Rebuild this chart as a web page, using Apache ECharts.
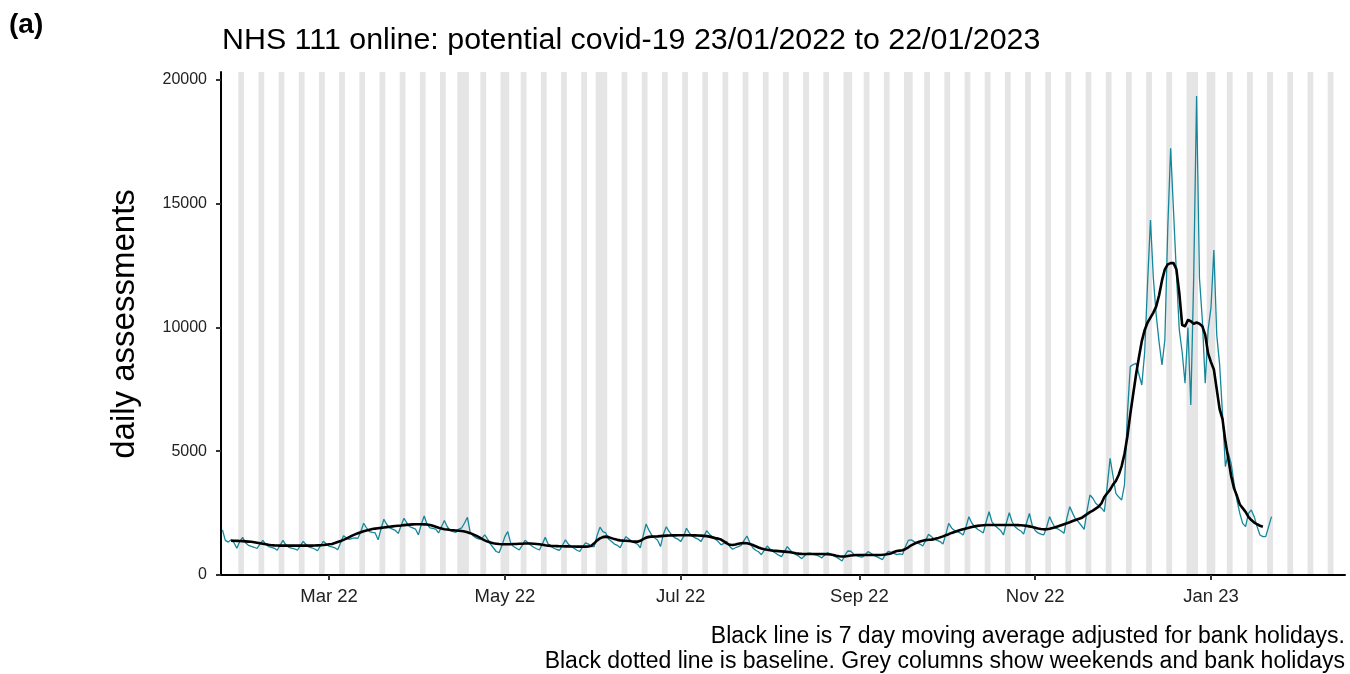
<!DOCTYPE html>
<html><head><meta charset="utf-8">
<script src="https://cdn.jsdelivr.net/npm/echarts@6/dist/echarts.min.js"></script>
<style>html,body{margin:0;padding:0;background:#fff}#c{width:1350px;height:674px}</style>
</head><body><div id="c"></div>
<script>
// ---------- data ----------
const dailyStart = [2022, 0, 23]; // Sun 23 Jan 2022
// daily assessments (23/01/2022 .. 22/01/2023), rows Mon..Sun after the first Sunday
const dailyAssessments = [
  1820,
  1400,1330,1420,1300,1080,1350,1520,
  1300,1200,1160,1120,1070,1250,1400,
  1250,1150,1120,1080,1000,1200,1400,
  1220,1120,1090,1060,1000,1180,1360,
  1230,1130,1100,1050,980,1180,1360,
  1260,1160,1140,1100,1020,1300,1590,
  1500,1440,1480,1500,1480,1750,2090,
  1900,1750,1720,1700,1420,1850,2250,
  2050,1900,1850,1800,1680,2000,2290,
  2100,1950,1900,1850,1620,2050,2380,
  2050,1900,1880,1850,1700,1950,2200,
  1950,1800,1750,1720,1850,1900,2100,
  2330,1700,1580,1500,1450,1480,1620,
  1450,1250,1100,950,900,1200,1550,
  1750,1300,1150,1080,1010,1200,1400,
  1300,1200,1120,1060,1010,1250,1520,
  1250,1150,1080,1030,1000,1200,1420,
  1250,1150,1080,1000,950,1150,1300,
  1250,1150,1150,1600,1930,1750,1700,
  1450,1350,1250,1200,1100,1350,1550,
  1450,1350,1300,1250,1100,1600,2060,
  1800,1600,1500,1400,1150,1650,1950,
  1750,1600,1500,1450,1350,1550,1890,
  1700,1580,1500,1450,1350,1550,1790,
  1650,1550,1450,1350,1220,1280,1350,
  1150,1040,1100,1150,1200,1400,1576,
  1300,1100,1000,940,820,1000,1170,
  1050,950,880,800,741,950,1145,
  1000,900,820,760,660,780,880,
  880,830,800,760,690,820,910,
  850,780,720,650,566,800,970,
  960,850,780,741,720,820,943,
  880,800,740,680,620,820,950,
  920,870,820,850,830,1150,1400,
  1420,1350,1300,1250,1171,1400,1643,
  1550,1450,1400,1350,1250,1650,2087,
  1900,1800,1750,1700,1616,1950,2357,
  2100,1950,1850,1780,1700,2150,2557,
  2150,2000,1900,1800,1616,2100,2514,
  2150,1950,1850,1780,1650,2100,2485,
  2000,1800,1700,1650,1620,1950,2357,
  2100,1900,1850,1780,1684,2300,2761,
  2500,2250,2150,2000,1845,2600,3232,
  3100,2900,2800,2700,2559,3600,4714,
  4000,3300,3150,3030,3650,6500,8418,
  8500,8553,8100,7677,9000,11800,14343,
  12000,10500,9400,8485,9500,14000,17239,
  14700,12200,9900,9000,7744,10000,6869,
  12000,19354,12000,10300,7744,9900,10800,
  13131,9700,8500,6500,4377,4929,4500,
  3700,3030,2490,2087,1953,2490,2626,
  2357,1953,1616,1549,1549,1953,2357
];
const avgStart = [2022, 0, 26]; // Wed 26 Jan 2022
// 7 day moving average adjusted for bank holidays (26/01/2022 .. 19/01/2023)
const movingAverage = [
  1390,1385,1380,1375,1370,
  1360,1350,1340,1320,1300,1280,1260,
  1240,1220,1205,1195,1190,1185,1185,
  1185,1185,1185,1185,1185,1185,1185,
  1185,1185,1185,1190,1195,1200,1210,
  1225,1240,1255,1290,1330,1370,1420,
  1470,1530,1590,1640,1685,1730,1770,
  1800,1830,1855,1875,1890,1905,1920,
  1935,1950,1965,1980,1990,2000,2015,
  2025,2035,2045,2050,2050,2050,2045,
  2040,2020,1990,1950,1910,1875,1850,
  1835,1820,1810,1800,1790,1780,1760,
  1730,1690,1640,1590,1530,1460,1400,
  1350,1310,1280,1265,1250,1245,1240,
  1240,1245,1250,1255,1260,1265,1270,
  1270,1270,1265,1255,1240,1220,1200,
  1185,1175,1170,1165,1160,1160,1155,
  1155,1150,1150,1145,1145,1145,1145,
  1150,1180,1280,1400,1480,1530,1550,
  1530,1490,1450,1420,1400,1390,1385,
  1375,1360,1350,1347,1380,1450,1510,
  1540,1550,1555,1560,1570,1580,1590,
  1595,1600,1600,1605,1605,1605,1605,
  1605,1600,1600,1595,1590,1580,1570,
  1550,1520,1490,1470,1430,1360,1280,
  1220,1210,1230,1260,1285,1290,1280,
  1250,1210,1160,1110,1070,1040,1020,
  1000,985,975,965,955,945,935,
  920,900,880,865,855,850,848,
  848,848,848,848,848,845,840,
  830,810,780,755,745,750,770,
  790,800,805,808,808,808,808,
  808,805,805,808,815,830,850,
  870,930,970,985,1000,1050,1120,
  1200,1260,1310,1350,1385,1410,1425,
  1430,1450,1480,1520,1560,1610,1650,
  1700,1740,1780,1820,1850,1880,1910,
  1940,1965,1985,2000,2010,2020,2020,
  2020,2020,2020,2020,2020,2020,2020,
  2020,2020,2015,2010,2000,1985,1965,
  1940,1910,1880,1860,1845,1850,1870,
  1900,1930,1970,2010,2050,2090,2130,
  2180,2220,2260,2300,2380,2460,2540,
  2600,2680,2760,2900,3150,3300,3450,
  3650,3800,4050,4400,4900,5600,6500,
  7300,8100,8800,9450,9900,10200,10400,
  10600,10850,11300,11900,12350,12550,12600,
  12600,12350,11400,10100,10050,10300,10250,
  10150,10200,10150,10050,9700,8950,8600,
  8300,7500,6700,6300,5400,4700,4000,
  3500,3200,2850,2700,2550,2350,2220,
  2120,2050,1990,1950
];
const bankHolidays = ['2022-04-15','2022-04-18','2022-05-02','2022-06-02','2022-06-03',
  '2022-08-29','2022-09-19','2022-12-26','2022-12-27','2023-01-02'];
const shadeFrom = [2022, 0, 29];   // first shaded weekend shown
const axisFrom = [2022, 0, 22.5];
const axisTo = [2023, 1, 16.5];
const xTickDates = [[2022,2,1],[2022,4,1],[2022,6,1],[2022,8,1],[2022,10,1],[2023,0,1]];
const yTickValues = [0, 5000, 10000, 15000, 20000];
const monthNames = ['Jan','Feb','Mar','Apr','May','Jun','Jul','Aug','Sep','Oct','Nov','Dec'];

// ---------- build ----------
const DAY = 86400000;
function ts(y, m, d) { return new Date(y, m, Math.floor(d)).getTime() + (d - Math.floor(d)) * DAY; }
const dailySeries = dailyAssessments.map((v, i) => [ts(dailyStart[0], dailyStart[1], dailyStart[2] + i), v]);
const avgSeries = movingAverage.map((v, i) => [ts(avgStart[0], avgStart[1], avgStart[2] + i), v]);
const xMin = ts(...axisFrom), xMax = ts(...axisTo);

function iso(d) { const p = n => String(n).padStart(2, '0'); return d.getFullYear() + '-' + p(d.getMonth() + 1) + '-' + p(d.getDate()); }
const shadeRanges = [];
let cur = null;
for (let i = 0; i < 800; i++) {
  const d = new Date(shadeFrom[0], shadeFrom[1], shadeFrom[2] + i);
  const t = d.getTime();
  if (t > xMax) break;
  const shaded = d.getDay() === 0 || d.getDay() === 6 || bankHolidays.includes(iso(d));
  if (shaded) {
    if (cur) cur[1] = t + DAY / 2; else cur = [t - DAY / 2, t + DAY / 2];
  } else if (cur) { shadeRanges.push(cur); cur = null; }
}
if (cur) shadeRanges.push(cur);

const xTicks = xTickDates.map(a => ts(...a));
const FONT = 'Liberation Sans, Arial, sans-serif';

const chart = echarts.init(document.getElementById('c'), null, { renderer: 'canvas' });
chart.setOption({
  animation: false,
  backgroundColor: '#ffffff',
  textStyle: { fontFamily: FONT },
  title: [
    { text: '(a)', left: 9, top: 11, padding: 0, textStyle: { fontFamily: FONT, fontSize: 28, fontWeight: 'bold', color: '#000' } },
    { text: 'NHS 111 online: potential covid-19 23/01/2022 to 22/01/2023', left: 222, top: 26, padding: 0,
      textStyle: { fontFamily: FONT, fontSize: 30.4, fontWeight: 'normal', color: '#000' } },
    { text: 'Black line is 7 day moving average adjusted for bank holidays.', right: 5, top: 625, padding: 0,
      textStyle: { fontFamily: FONT, fontSize: 23, fontWeight: 'normal', color: '#000' } },
    { text: 'Black dotted line is baseline. Grey columns show weekends and bank holidays', right: 5, top: 650, padding: 0,
      textStyle: { fontFamily: FONT, fontSize: 23, fontWeight: 'normal', color: '#000' } }
  ],
  graphic: [{
    type: 'text', x: 125, y: 324, rotation: Math.PI / 2,
    style: { text: 'daily assessments', font: '33px ' + FONT, fill: '#000', align: 'center', verticalAlign: 'middle' }
  }],
  grid: { left: 221, right: 5, top: 72, bottom: 99, containLabel: false },
  xAxis: {
    type: 'value', min: xMin, max: xMax, z: 10,
    splitLine: { show: false },
    axisLine: { show: true, onZero: false, lineStyle: { color: '#000', width: 2 } },
    axisTick: { show: true, customValues: xTicks, length: 5, lineStyle: { color: '#333', width: 2 } },
    axisLabel: {
      customValues: xTicks, margin: 12, fontSize: 18.5, color: '#222', fontFamily: FONT,
      formatter: v => { const d = new Date(v); return monthNames[d.getMonth()] + ' ' + String(d.getFullYear()).slice(2); }
    }
  },
  yAxis: {
    type: 'value', min: 0, max: 20320, z: 10,
    splitLine: { show: false },
    axisLine: { show: true, lineStyle: { color: '#000', width: 2 } },
    axisTick: { show: true, customValues: yTickValues, length: 5, lineStyle: { color: '#333', width: 2 } },
    axisLabel: { customValues: yTickValues, margin: 14, fontSize: 16, color: '#222', fontFamily: FONT,
      formatter: v => String(v) }
  },
  series: [
    {
      type: 'custom', name: 'weekends', silent: true, z: 1, clip: true,
      encode: { x: [0, 1] },
      data: shadeRanges,
      renderItem: (params, api) => {
        const a = api.coord([api.value(0), 0]);
        const b = api.coord([api.value(1), 0]);
        const cs = params.coordSys;
        return { type: 'rect', shape: { x: a[0], y: cs.y, width: b[0] - a[0], height: cs.height },
          style: { fill: '#e5e5e5' } };
      }
    },
    {
      type: 'line', name: 'daily', data: dailySeries, showSymbol: false, z: 3,
      lineStyle: { color: '#16879b', width: 1.3 }, itemStyle: { color: '#16879b' }
    },
    {
      type: 'line', name: 'average', data: avgSeries, showSymbol: false, z: 4,
      lineStyle: { color: '#000', width: 2.6, join: 'round' }, itemStyle: { color: '#000' }
    }
  ]
});
</script>
</body></html>
